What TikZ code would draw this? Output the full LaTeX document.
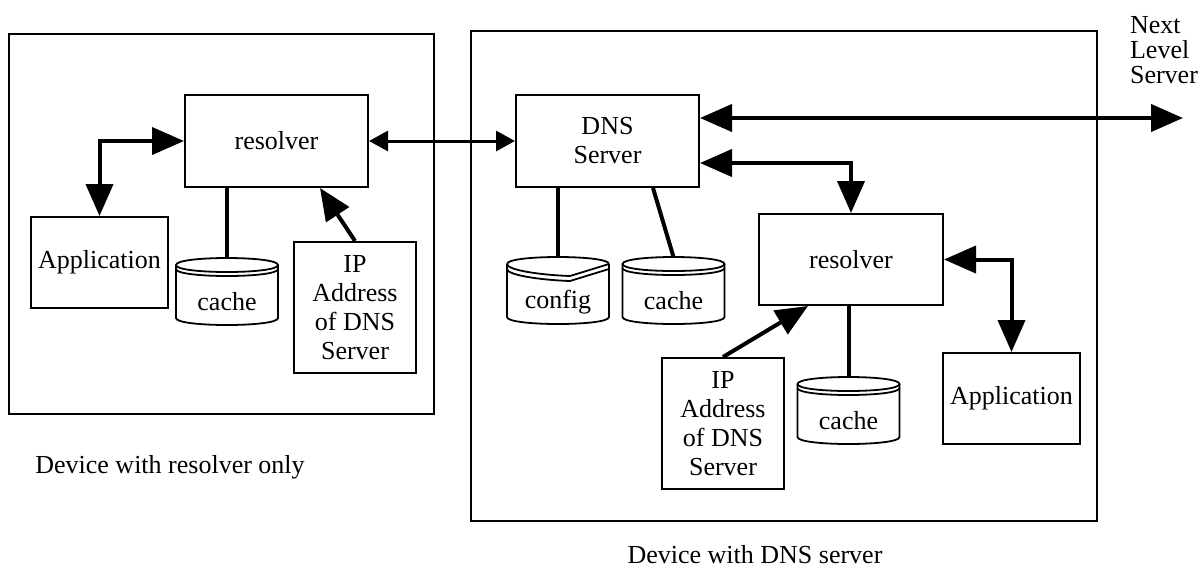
\documentclass[tikz,border=0pt]{standalone}
\usepackage{fontspec}
\setmainfont{Liberation Serif}
\newfontfamily\figfont{Liberation Serif}
\usepackage{tikz}
\usetikzlibrary{arrows.meta,positioning,calc}

\tikzset{
	txt/.style={font=\figfont\fontsize{13}{14.5}\selectfont},
	box/.style={draw, line width=1pt, align=center, txt},
	frame/.style={draw, line width=1pt},
	link/.style={line width=2pt},
	bigarrow/.style={line width=2pt, {Triangle[length=16pt,width=13.5pt]}-{Triangle[length=16pt,width=13.5pt]}},
	onearrow/.style={line width=2pt, -{Triangle[length=16pt,width=13.5pt]}},
	smallarrow/.style={line width=1.5pt, {Triangle[length=9.5pt,width=10pt]}-{Triangle[length=9.5pt,width=10pt]}},
	diskline/.style={line width=0.9pt},
	disktext/.style={txt}
}

% #1 name, #2 centre x, #3 top y, #4 text
\newcommand{\dbdisk}[4]{%
	\draw[diskline] (#2-51,#3+7) .. controls (#2-51,#3-2.33) and (#2+51,#3-2.33) .. (#2+51,#3+7)
		.. controls (#2+51,#3+16.33) and (#2-51,#3+16.33) .. cycle;
	\draw[diskline] (#2-51,#3+7) -- (#2-51,#3+11) .. controls (#2-51,#3+20.33) and (#2+51,#3+20.33) .. (#2+51,#3+11) -- (#2+51,#3+7);
	\draw[diskline] (#2-51,#3+11) -- (#2-51,#3+60) .. controls (#2-51,#3+69.33) and (#2+51,#3+69.33) .. (#2+51,#3+60) -- (#2+51,#3+11);
	\node[disktext] (#1) at (#2,#3+44) {#4};
	\coordinate (#1-top) at (#2,#3);
}

\begin{document}
\begin{tikzpicture}[x=0.5pt, y=-0.5pt]
			\useasboundingbox (0,0) rectangle (1200,569);

			\node[frame, minimum width=212.5pt, minimum height=190pt] (leftdev) at (221.5,224) {};
			\node[frame, minimum width=313pt, minimum height=245pt] (rightdev) at (784,276) {};
			\node[txt] (leftlabel) at (170,467) {Device with resolver only};
			\node[txt] (rightlabel) at (755,555) {Device with DNS server};
			\node[align=left, font=\figfont\fontsize{13}{12.5}\selectfont] (nextlabel) at (1164,50) {Next\\Level\\Server};

			\node[box, minimum width=91.5pt, minimum height=46pt] (resolver1) at (276.5,141) {resolver};
			\node[box, minimum width=68.5pt, minimum height=45.5pt] (app1) at (99.5,262.5) {Application};
			\node[box, minimum width=61pt, minimum height=65.5pt] (ip1) at (355,307.5) {IP\\Address\\of DNS\\Server};
			\dbdisk{cache1}{227}{258}{cache}

			\node[box, minimum width=91.5pt, minimum height=46pt] (dns) at (607.5,141) {DNS\\Server};
			\node[box, minimum width=92pt, minimum height=45.5pt] (resolver2) at (851,259.5) {resolver};
			\node[box, minimum width=68.5pt, minimum height=45.5pt] (app2) at (1011.5,398.5) {Application};
			\node[box, minimum width=61pt, minimum height=65.5pt] (ip2) at (723,423.5) {IP\\Address\\of DNS\\Server};
			\dbdisk{cache3}{673.5}{257}{cache}
			\dbdisk{cache2}{848.5}{377}{cache}

			% config disk has a bent front edge
			\draw[diskline] (507,264) .. controls (507,254.67) and (609,254.67) .. (609,264);
			\draw[diskline] (507,264) .. controls (507,270) and (540,275) .. (570,276) -- (609,264);
			\draw[diskline] (507,264) -- (507,269) .. controls (507,275) and (540,280) .. (570,281) -- (609,269) -- (609,264);
			\draw[diskline] (507,269) -- (507,317) .. controls (507,326.33) and (609,326.33) .. (609,317) -- (609,269);
			\node[disktext] (config) at (558,302) {config};
			\coordinate (config-top) at (558,257);

			\coordinate (nextlvl) at (1183,118);

			\draw[bigarrow] (resolver1.west) -| (app1.north);
			\draw[smallarrow] (resolver1.east) to (dns.west);
			\draw[onearrow] (ip1.north) to ($(resolver1.south)+(43.5,0)$);
			\draw[link] (cache1-top |- resolver1.south) to (cache1-top);

			\draw[bigarrow] ($(dns.east)+(0,-23)$) to (nextlvl);
			\draw[bigarrow] ($(dns.east)+(0,22)$) -| (resolver2.north);
			\draw[bigarrow] (resolver2.east) -| (app2.north);
			\draw[onearrow] (ip2.north) to ($(resolver2.south)+(-43,0)$);
			\draw[link] (cache2-top |- resolver2.south) to (cache2-top);
			\draw[link] (config-top |- dns.south) to (config-top);
			\draw[link] ($(dns.south)+(45.5,0)$) to (cache3-top);
		\end{tikzpicture}
\end{document}
